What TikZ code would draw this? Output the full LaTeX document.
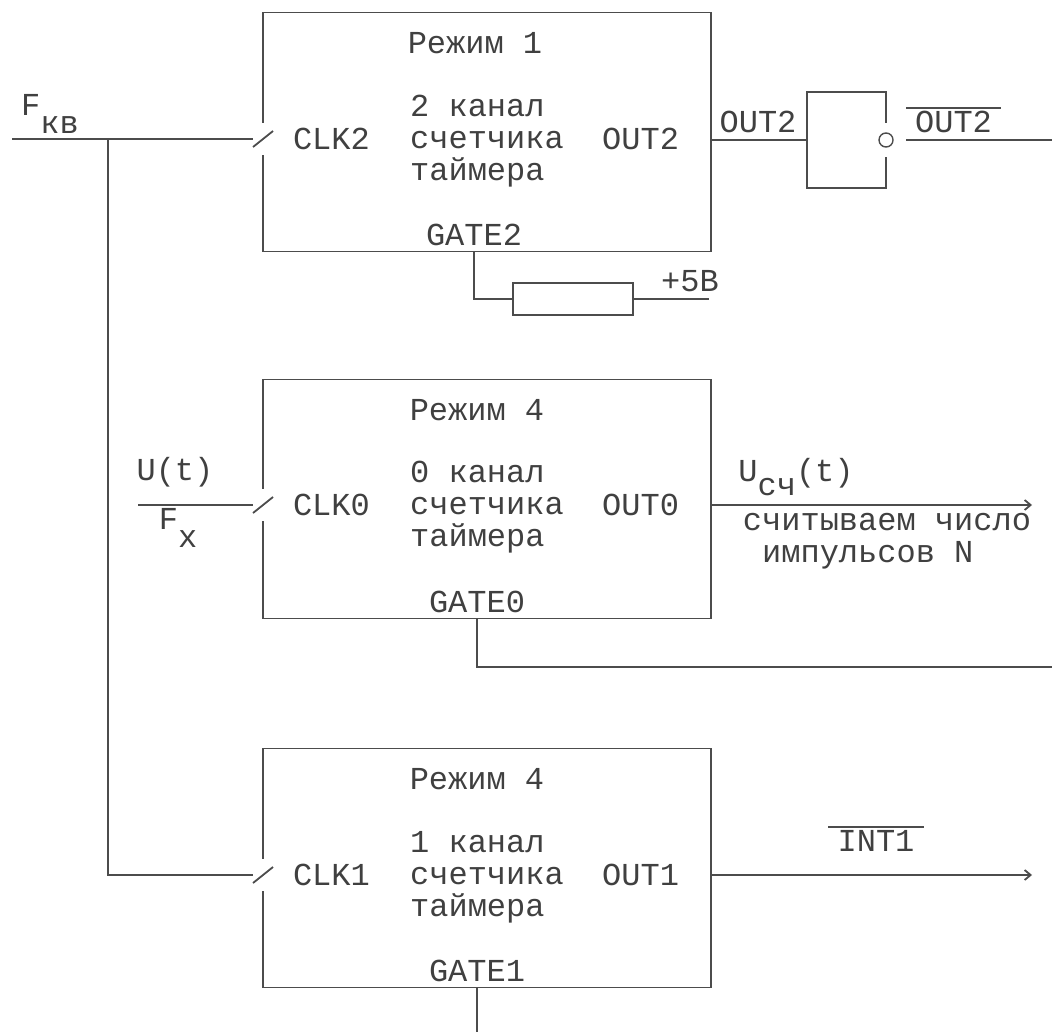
\documentclass[tikz,border=0pt]{standalone}
\usepackage{fontspec}
\setmainfont{Liberation Mono}
\usepackage{xcolor}
\usetikzlibrary{arrows.meta, positioning}

\begin{document}
\begin{tikzpicture}[x=0.5pt, y=-0.5pt, >={Straight Barb[length=3pt, width=5pt]},
  line width=0.9pt, color=black!70, outer sep=0pt,
  blk/.style={draw, minimum width=224pt, minimum height=119.5pt, inner sep=0pt},
  lbl/.style={font=\fontsize{16}{16}\selectfont, text=black!75, inner sep=0pt, align=left},
  brk/.style={fill=white, minimum width=10pt, minimum height=16pt, inner sep=0pt}]
  \useasboundingbox (0,0) rectangle (1052,1032);
  % timer channels
  \node[blk] (t2) at (487,132) {};
  \node[blk, below=64pt of t2] (t0) {};
  \node[blk, below=65pt of t0] (t1) {};
  \node[brk] (s2) at ([yshift=-3.5pt]t2.west) {};
  \node[brk] (s0) at ([yshift=-3pt]t0.west) {};
  \node[brk] (s1) at ([yshift=-3.5pt]t1.west) {};
  \draw ([yshift=-4pt]s2.west) -- ([yshift=4pt]s2.east);
  \draw ([yshift=-4pt]s0.west) -- ([yshift=4pt]s0.east);
  \draw ([yshift=-4pt]s1.west) -- ([yshift=4pt]s1.east);

  \node[lbl, below=10pt of t2.north, xshift=-6pt] (m2) {Режим 1};
  \node[lbl, below=10pt of t0.north, xshift=-5pt] (m0) {Режим 4};
  \node[lbl, below=10pt of t1.north, xshift=-5pt] (m1) {Режим 4};
  \node[lbl, yshift=-4.5pt] (c2) at (t2) {2 канал\\счетчика\\таймера};
  \node[lbl, yshift=-4pt] (c0) at (t0) {0 канал\\счетчика\\таймера};
  \node[lbl, yshift=-4.5pt] (c1) at (t1) {1 канал\\счетчика\\таймера};
  \node[lbl, right=15pt of s2.center] (clk2) {CLK2};
  \node[lbl, right=15pt of s0.center] (clk0) {CLK0};
  \node[lbl, right=15pt of s1.center] (clk1) {CLK1};
  \node[lbl, left=16pt of t2.east, yshift=-3.5pt] (o2) {OUT2};
  \node[lbl, left=16pt of t0.east, yshift=-3pt] (o0) {OUT0};
  \node[lbl, left=16pt of t1.east, yshift=-3.5pt] (o1) {OUT1};
  \node[lbl, above=3pt of t2.south, xshift=-6.5pt] (gate2) {GATE2};
  \node[lbl, above=3pt of t0.south, xshift=-5pt] (gate0) {GATE0};
  \node[lbl, above=3pt of t1.south, xshift=-5pt] (gate1) {GATE1};

  % clock inputs
  \coordinate (fin) at (12,139);
  \coordinate (fj) at (108,139);
  \coordinate (uin) at (138,505);
  \node[lbl] (fkv) at (50,114) {F\raisebox{-9pt}{кв}};
  \node[lbl] (ut) at (175,472) {U(t)};
  \node[lbl] (fx) at (178,528) {F\raisebox{-9pt}{x}};
  \draw (fin) -- (s2.west);
  \draw (fj) |- (s1.west);
  \draw (uin) -- (s0.west);

  % inverter on OUT2
  \node[draw, minimum width=39.5pt, minimum height=48pt] (inv) at (846.5,140) {};
  \node[fill=white, minimum width=4pt, minimum height=17pt, inner sep=0pt] (ib) at (inv.east) {};
  \node[draw, circle, minimum size=7pt, inner sep=0pt, line width=0.7pt] (bub) at (inv.east) {};
  \coordinate[right=10pt of inv.east] (q);
  \coordinate (qe) at (1052,140);
  \node[lbl] (w2) at (758,122) {OUT2};
  \node[lbl, minimum width=47.5pt, minimum height=14pt, align=center] (nout) at (953.5,122) {OUT2};
  \draw (t2.east |- inv) -- (inv.west);
  \draw (q) -- (qe);
  \draw (nout.north west) -- (nout.north east);

  % pull-up
  \node[draw, minimum width=60pt, minimum height=16pt] (res) at (573,299) {};
  \coordinate[right=38pt of res.east] (vcc);
  \node[lbl] (v5) at (690,281) {+5В};
  \draw (gate2 |- t2.south) |- (res.west);
  \draw (res.east) -- (vcc);

  % outputs
  \coordinate (u0) at (1032,505);
  \coordinate (u1) at (1032,875);
  \coordinate (g0) at (1052,667);
  \coordinate (g1) at (478,1032);
  \node[lbl] (usc) at (796,477) {U\raisebox{-7pt}{сч}(t)};
  \node[lbl, align=left] (nt) at (887,541) {считываем число\\\hspace*{9.6pt}импульсов N};
  \node[lbl, minimum width=48pt, minimum height=14pt, align=center] (nint) at (876,841) {INT1};
  \draw[->] (t0.east |- u0) -- (u0);
  \draw[->] (t1.east |- u1) -- (u1);
  \draw (nint.north west) -- (nint.north east);
  \draw (gate0 |- t0.south) |- (g0);
  \draw (gate1 |- t1.south) -- (gate1 |- g1);
\end{tikzpicture}
\end{document}
